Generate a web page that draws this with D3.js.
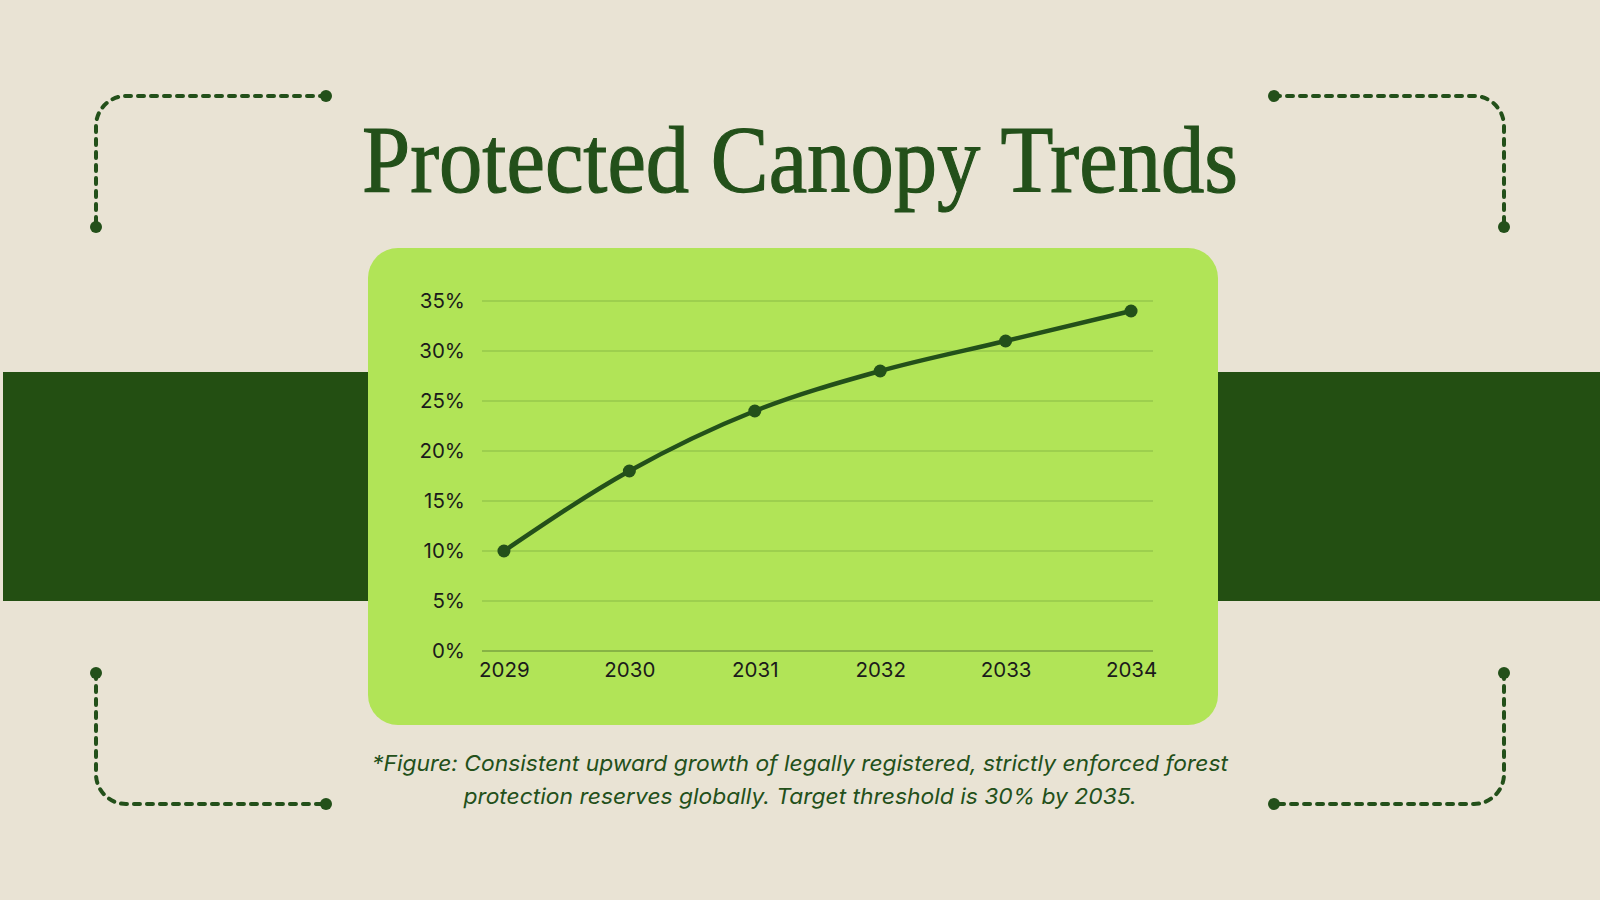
<!DOCTYPE html>
<html>
<head>
<meta charset="utf-8">
<script src="https://cdn.jsdelivr.net/npm/d3@7"></script>
<style>
  html, body { margin: 0; padding: 0; background: #e9e3d4; }
  .canvas { width: 1600px; height: 900px; }
</style>
</head>
<body>
<div class="canvas"></div>
<script>
// data
const years = ['2029', '2030', '2031', '2032', '2033', '2034'];
const protectedShare = [10, 18, 24, 28, 31, 34];
const yTicks = [0, 5, 10, 15, 20, 25, 30, 35];
const titleText = 'Protected Canopy Trends';
const captionLines = [
  '*Figure: Consistent upward growth of legally registered, strictly enforced forest',
  'protection reserves globally. Target threshold is 30% by 2035.'
];

const W = 1600, H = 900;
const dark = '#23501a';

const svg = d3.select('.canvas')
  .append('svg')
  .attr('width', W)
  .attr('height', H);

svg.append('rect')
  .attr('width', W).attr('height', H)
  .attr('fill', '#e9e3d4');

// dark band behind the panel
svg.append('rect')
  .attr('x', 3).attr('y', 372)
  .attr('width', W - 3).attr('height', 229)
  .attr('fill', '#234f12');

// corner brackets
const r = 30;
const brackets = [
  `M326,96 H${96 + r} A${r},${r} 0 0 0 96,${96 + r} V227`,
  `M1274,96 H${1504 - r} A${r},${r} 0 0 1 1504,${96 + r} V227`,
  `M96,673 V${804 - r} A${r},${r} 0 0 0 ${96 + r},804 H326`,
  `M1504,673 V${804 - r} A${r},${r} 0 0 1 ${1504 - r},804 H1274`
];
const ends = [[326, 96], [96, 227], [1274, 96], [1504, 227], [96, 673], [326, 804], [1504, 673], [1274, 804]];

svg.append('g')
  .selectAll('path')
  .data(brackets)
  .join('path')
    .attr('d', d => d)
    .attr('fill', 'none')
    .attr('stroke', dark)
    .attr('stroke-width', 4)
    .attr('stroke-linecap', 'round')
    .attr('stroke-dasharray', '6 7');

svg.append('g')
  .selectAll('circle')
  .data(ends)
  .join('circle')
    .attr('cx', d => d[0])
    .attr('cy', d => d[1])
    .attr('r', 6)
    .attr('fill', dark);

// title
svg.append('text')
  .attr('x', 800)
  .attr('y', 192)
  .attr('text-anchor', 'middle')
  .attr('fill', dark)
  .attr('stroke', dark)
  .attr('stroke-width', 1.2)
  .style('font-family', '"Liberation Serif", "DejaVu Serif", serif')
  .style('font-size', '96px')
  .attr('textLength', 876)
  .attr('lengthAdjust', 'spacingAndGlyphs')
  .text(titleText);

// chart panel
svg.append('rect')
  .attr('x', 368).attr('y', 248)
  .attr('width', 850).attr('height', 477)
  .attr('rx', 30)
  .attr('fill', '#b1e457');

const plot = { left: 482, right: 1153, top: 301, bottom: 651 };

const x = d3.scalePoint()
  .domain(years)
  .range([plot.left, plot.right])
  .padding(0.175);

const y = d3.scaleLinear()
  .domain([0, 35])
  .range([plot.bottom, plot.top]);

// grid lines
svg.append('g')
  .selectAll('line')
  .data(yTicks)
  .join('line')
    .attr('x1', plot.left)
    .attr('x2', plot.right)
    .attr('y1', d => y(d))
    .attr('y2', d => y(d))
    .attr('stroke', d => d === 0 ? '#7aa33f' : '#97c84b')
    .attr('stroke-width', d => d === 0 ? 1.6 : 1.3);

// y axis labels
const yAxis = d3.axisLeft(y)
  .tickValues(yTicks)
  .tickFormat(d => `${d}%`)
  .tickSize(0)
  .tickPadding(0);

svg.append('g')
  .attr('transform', 'translate(465,0)')
  .call(yAxis)
  .call(g => g.select('.domain').remove())
  .call(g => g.selectAll('text')
    .attr('fill', '#1b1b1b')
    .style('font-family', 'Inter, "Noto Sans", sans-serif')
    .style('font-size', '20.5px'));

// x axis labels
const xAxis = d3.axisBottom(x)
  .tickSize(0)
  .tickPadding(0);

svg.append('g')
  .attr('transform', `translate(0,${plot.bottom})`)
  .call(xAxis)
  .call(g => g.select('.domain').remove())
  .call(g => g.selectAll('text')
    .attr('dy', 0)
    .attr('y', 26)
    .attr('fill', '#1b1b1b')
    .style('font-family', 'Inter, "Noto Sans", sans-serif')
    .style('font-size', '20.5px'));

// line + points
const line = d3.line()
  .x((d, i) => x(years[i]))
  .y(d => y(d))
  .curve(d3.curveMonotoneX);

svg.append('path')
  .datum(protectedShare)
  .attr('d', line)
  .attr('fill', 'none')
  .attr('stroke', dark)
  .attr('stroke-width', 4.5)
  .attr('stroke-linejoin', 'round');

svg.append('g')
  .selectAll('circle')
  .data(protectedShare)
  .join('circle')
    .attr('cx', (d, i) => x(years[i]))
    .attr('cy', d => y(d))
    .attr('r', 6.5)
    .attr('fill', dark);

// caption, stretched so the first line spans the same width as in the picture
const caption = svg.append('g')
  .selectAll('text')
  .data(captionLines)
  .join('text')
    .attr('x', 800)
    .attr('y', (d, i) => 771 + i * 33)
    .attr('text-anchor', 'middle')
    .attr('fill', dark)
    .style('font-family', 'Inter, "Noto Sans", sans-serif')
    .style('font-style', 'italic')
    .style('font-size', '22px')
    .text(d => d);

const natural = caption.nodes().map(n => n.getComputedTextLength());
const k = 856 / natural[0];
caption
  .attr('textLength', (d, i) => natural[i] * k)
  .attr('lengthAdjust', 'spacingAndGlyphs');
</script>
</body>
</html>
